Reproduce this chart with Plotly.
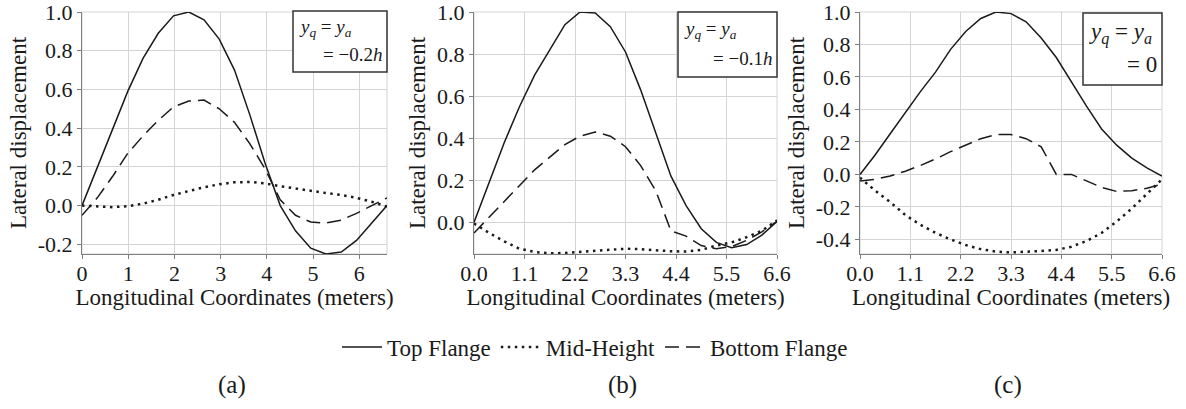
import plotly.graph_objects as go

# ---------------- data ----------------
x_m = [0.0, 0.33, 0.66, 0.99, 1.32, 1.65, 1.98, 2.31, 2.64, 2.97, 3.3,
       3.63, 3.96, 4.29, 4.62, 4.95, 5.28, 5.61, 5.94, 6.27, 6.6]

# panel (a)  y_q = y_a = -0.2h
top_a = [0.0, 0.2, 0.4, 0.59, 0.76, 0.89, 0.98, 1.0, 0.96, 0.86, 0.7,
         0.47, 0.22, 0.0, -0.13, -0.22, -0.25, -0.24, -0.18, -0.09, 0.0]
mid_a = [0.0, -0.005, -0.008, -0.003, 0.01, 0.03, 0.055, 0.075, 0.095, 0.11, 0.12,
         0.122, 0.115, 0.1, 0.088, 0.075, 0.065, 0.055, 0.04, 0.02, -0.005]
bot_a = [-0.05, 0.04, 0.15, 0.27, 0.36, 0.44, 0.51, 0.54, 0.545, 0.5, 0.43,
         0.32, 0.19, 0.03, -0.05, -0.085, -0.09, -0.075, -0.04, 0.0, 0.04]

# panel (b)  y_q = y_a = -0.1h
top_b = [0.0, 0.19, 0.38, 0.55, 0.7, 0.82, 0.94, 1.0, 0.995, 0.93, 0.81,
         0.63, 0.42, 0.22, 0.08, -0.03, -0.095, -0.12, -0.105, -0.06, 0.005]
mid_b = [-0.005, -0.05, -0.09, -0.125, -0.14, -0.147, -0.145, -0.14, -0.133, -0.128, -0.125,
         -0.127, -0.132, -0.137, -0.138, -0.13, -0.11, -0.095, -0.07, -0.04, 0.01]
bot_b = [-0.05, 0.025, 0.1, 0.18, 0.25, 0.31, 0.37, 0.41, 0.43, 0.41, 0.36,
         0.27, 0.15, -0.04, -0.065, -0.11, -0.125, -0.115, -0.085, -0.045, 0.005]

# panel (c)  y_q = y_a = 0
top_c = [0.0, 0.12, 0.25, 0.38, 0.51, 0.63, 0.77, 0.88, 0.96, 1.0, 0.99,
         0.94, 0.84, 0.72, 0.57, 0.42, 0.28, 0.18, 0.1, 0.04, -0.01]
mid_c = [-0.02, -0.1, -0.17, -0.25, -0.31, -0.36, -0.4, -0.435, -0.46, -0.475, -0.48,
         -0.478, -0.472, -0.465, -0.445, -0.41, -0.36, -0.29, -0.21, -0.12, -0.03]
bot_c = [-0.04, -0.03, -0.01, 0.02, 0.055, 0.095, 0.14, 0.18, 0.22, 0.245, 0.245,
         0.22, 0.17, 0.0, 0.0, -0.04, -0.08, -0.105, -0.1, -0.085, -0.06]

series_names = ["Top Flange", "Mid-Height", "Bottom Flange"]
panel_labels = ["(a)", "(b)", "(c)"]
box_line1 = "<i>y</i><sub><i>q</i></sub> = <i>y</i><sub><i>a</i></sub>"
box_line2 = ["= \u22120.2<i>h</i>", "= \u22120.1<i>h</i>", "= 0"]

xt_a_vals = [0, 1, 2, 3, 4, 5, 6]
xt_a_text = ["0", "1", "2", "3", "4", "5", "6"]
xt_bc_vals = [0.0, 1.1, 2.2, 3.3, 4.4, 5.5, 6.6]
xt_bc_text = ["0.0", "1.1", "2.2", "3.3", "4.4", "5.5", "6.6"]
yt_a_vals = [-0.2, 0.0, 0.2, 0.4, 0.6, 0.8, 1.0]
yt_a_text = ["-0.2", "0.0", "0.2", "0.4", "0.6", "0.8", "1.0"]
yt_b_vals = [0.0, 0.2, 0.4, 0.6, 0.8, 1.0]
yt_b_text = ["0.0", "0.2", "0.4", "0.6", "0.8", "1.0"]
yt_c_vals = [-0.4, -0.2, 0.0, 0.2, 0.4, 0.6, 0.8, 1.0]
yt_c_text = ["-0.4", "-0.2", "0.0", "0.2", "0.4", "0.6", "0.8", "1.0"]

# ---------------- figure ----------------
W, H = 1186, 409
ML, MR, MT, MB = 40, 10, 2, 4
FONT = "Liberation Serif"
INK = "#1a1a1a"

styles = [dict(color=INK, width=1.5, dash="solid"),
          dict(color=INK, width=2.5, dash="2.5px,4.5px"),
          dict(color=INK, width=1.5, dash="14px,7px")]

panels = [
    dict(top=top_a, mid=mid_a, bot=bot_a, xd=(82, 387), yr=(-0.25, 1.0),
         xtv=xt_a_vals, xtt=xt_a_text, ytv=yt_a_vals, ytt=yt_a_text,
         box=(293, 11, 387, 72), bfs=19),
    dict(top=top_b, mid=mid_b, bot=bot_b, xd=(474, 777), yr=(-0.15, 1.0),
         xtv=xt_bc_vals, xtt=xt_bc_text, ytv=yt_b_vals, ytt=yt_b_text,
         box=(678, 12, 777, 77), bfs=19),
    dict(top=top_c, mid=mid_c, bot=bot_c, xd=(860, 1162), yr=(-0.49, 1.0),
         xtv=xt_bc_vals, xtt=xt_bc_text, ytv=yt_c_vals, ytt=yt_c_text,
         box=(1083, 13, 1162, 85), bfs=23),
]

PT, PB = 12, 254  # plot top / bottom in screen px
fig = go.Figure()
shapes = []
annotations = []

def px2fx(p):
    return (p - ML) / (W - ML - MR)

def py2fy(p):
    return (H - MB - p) / (H - MT - MB)

for i, p in enumerate(panels):
    n = "" if i == 0 else str(i + 1)
    xa, ya = "x" + n, "y" + n
    for k, (name, ys) in enumerate(zip(series_names, [p["top"], p["mid"], p["bot"]])):
        fig.add_trace(go.Scatter(
            x=x_m, y=ys, mode="lines", name=name, line=styles[k],
            xaxis=xa, yaxis=ya, showlegend=(i == 0), legendrank=k,
        ))
    dom_x = [px2fx(p["xd"][0]), px2fx(p["xd"][1])]
    dom_y = [py2fy(PB), py2fy(PT)]
    axis_common = dict(showgrid=True, gridcolor="#d4d4d4", gridwidth=1,
                       zeroline=False, showline=True, linecolor="#7f7f7f",
                       linewidth=1.2, ticks="outside", ticklen=4, tickcolor="#7f7f7f",
                       ticklabeloverflow="allow", automargin=False,
                       tickfont=dict(family=FONT, size=22, color=INK))
    fig.update_layout(**{
        "xaxis" + n: dict(domain=dom_x, range=[0, 6.6], tickvals=p["xtv"], ticktext=p["xtt"],
                          anchor=ya, ticklabelstandoff=-5,
                          title=dict(text="Longitudinal Coordinates (meters)",
                                     font=dict(family=FONT, size=23, color=INK), standoff=1),
                          **axis_common),
        "yaxis" + n: dict(domain=dom_y, range=list(p["yr"]), tickvals=p["ytv"], ticktext=p["ytt"],
                          anchor=xa,
                          title=dict(text="Lateral displacement",
                                     font=dict(family=FONT, size=23, color=INK), standoff=4),
                          **axis_common),
    })
    # light frame (top/right)
    shapes.append(dict(type="rect", xref="paper", yref="paper",
                       x0=dom_x[0], x1=dom_x[1], y0=dom_y[0], y1=dom_y[1],
                       line=dict(color="#d4d4d4", width=1), layer="below"))
    # label box
    bx0, by0, bx1, by1 = p["box"]
    shapes.append(dict(type="rect", xref="paper", yref="paper",
                       x0=px2fx(bx0), x1=px2fx(bx1), y0=py2fy(by1), y1=py2fy(by0),
                       line=dict(color="#333333", width=1.5), fillcolor="white", layer="above"))
    annotations.append(dict(text=box_line1, xref="paper", yref="paper",
                            x=px2fx(bx0 + 4), y=py2fy(by0 + (by1 - by0) * 0.28),
                            xanchor="left", yanchor="middle", showarrow=False,
                            font=dict(family=FONT, size=p["bfs"], color=INK)))
    annotations.append(dict(text=box_line2[i], xref="paper", yref="paper",
                            x=px2fx(bx1 - 3), y=py2fy(by0 + (by1 - by0) * 0.72),
                            xanchor="right", yanchor="middle", showarrow=False,
                            font=dict(family=FONT, size=p["bfs"], color=INK)))
    # panel label
    annotations.append(dict(text=panel_labels[i], xref="paper", yref="paper",
                            x=px2fx((p["xd"][0] + p["xd"][1]) / 2 - 3), y=py2fy(385),
                            xanchor="center", yanchor="middle", showarrow=False,
                            font=dict(family=FONT, size=25, color=INK)))

fig.update_layout(
    width=W, height=H,
    margin=dict(l=ML, r=MR, t=MT, b=MB, autoexpand=False),
    paper_bgcolor="white", plot_bgcolor="white",
    font=dict(family=FONT, color=INK),
    shapes=shapes, annotations=annotations,
    showlegend=True,
    legend=dict(orientation="h", x=px2fx(595), xanchor="center", y=py2fy(347), yanchor="middle",
                font=dict(family=FONT, size=23, color=INK), itemwidth=40,
                traceorder="normal", bgcolor="rgba(0,0,0,0)", tracegroupgap=0),
)

fig.write_html("out.html",
               config={"displayModeBar": False},
               post_script="document.body.style.margin='0';document.body.style.overflow='hidden';")
